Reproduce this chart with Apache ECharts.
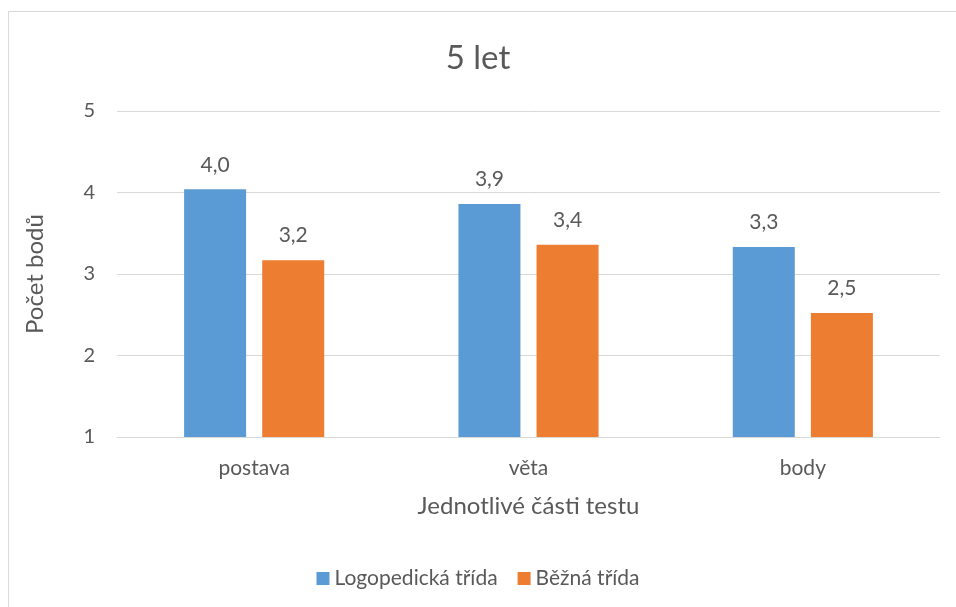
<!DOCTYPE html>
<html>
<head>
<meta charset="utf-8">
<script src="https://cdn.jsdelivr.net/npm/echarts@6/dist/echarts.min.js"></script>
<style>html,body{margin:0;padding:0;background:#fff}#c{width:956px;height:607px}</style>
</head>
<body>
<div id="c"></div>
<script>
var categories = ['postava', 'věta', 'body'];
var seriesNames = ['Logopedická třída', 'Běžná třída'];
var logopedicka = [4.04, 3.86, 3.33];
var bezna = [3.17, 3.36, 2.52];
var yTicks = [1, 2, 3, 4, 5];

var FONT = 'Lato, "Open Sans", sans-serif';
var TXT = '#595959';
var chart = echarts.init(document.getElementById('c'));
function fmt(p){ return p.value.toFixed(1).replace('.', ','); }
chart.setOption({
  animation: false,
  textStyle: { fontFamily: FONT, color: TXT },
  graphic: [{
    type: 'rect', shape: { x: 8.5, y: 11.5, width: 960, height: 620 },
    style: { fill: 'none', stroke: '#D9D9D9', lineWidth: 1 }, silent: true
  }],
  title: {
    text: '5 let', left: 'center', top: 37,
    textStyle: { fontFamily: FONT, fontSize: 33, fontWeight: 'normal', color: TXT }
  },
  legend: {
    data: seriesNames, bottom: 13, left: 'center',
    itemWidth: 13, itemHeight: 13, itemGap: 20, itemTextGap: 5,
    icon: 'rect',
    textStyle: { fontFamily: FONT, fontSize: 21, color: TXT }
  },
  grid: { left: 117, right: 16, top: 111, bottom: 170, containLabel: false },
  xAxis: {
    type: 'category', data: categories,
    axisLine: { lineStyle: { color: '#D9D9D9' } },
    axisTick: { show: false },
    axisLabel: { fontFamily: FONT, fontSize: 21, color: TXT, margin: 21 },
    name: 'Jednotlivé části testu', nameLocation: 'middle', nameGap: 57,
    nameTextStyle: { fontFamily: FONT, fontSize: 24, color: TXT }
  },
  yAxis: {
    type: 'value', min: yTicks[0], max: yTicks[yTicks.length - 1], interval: 1,
    axisLine: { show: false }, axisTick: { show: false },
    splitLine: { lineStyle: { color: '#D9D9D9' } },
    axisLabel: { fontFamily: FONT, fontSize: 20, color: TXT, margin: 22 },
    name: 'Počet bodů', nameLocation: 'middle', nameGap: 70, nameRotate: 90,
    nameTextStyle: { fontFamily: FONT, fontSize: 24, color: TXT }
  },
  series: [
    { name: seriesNames[0], type: 'bar', data: logopedicka, barWidth: '22.6%', barGap: '26%',
      itemStyle: { color: '#5B9BD5' },
      label: { show: true, position: 'top', distance: 14, formatter: fmt, fontFamily: FONT, fontSize: 21, color: TXT } },
    { name: seriesNames[1], type: 'bar', data: bezna, barWidth: '22.6%', barGap: '26%',
      itemStyle: { color: '#ED7D31' },
      label: { show: true, position: 'top', distance: 14, formatter: fmt, fontFamily: FONT, fontSize: 21, color: TXT } }
  ]
});
</script>
</body>
</html>
